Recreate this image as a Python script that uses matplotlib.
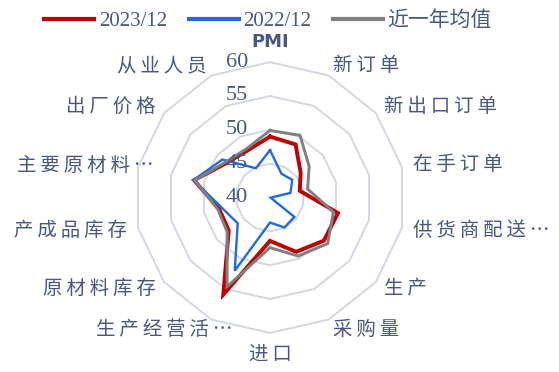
import numpy as np
import matplotlib
matplotlib.use("Agg")
import matplotlib.pyplot as plt
from matplotlib.transforms import offset_copy

# 制造业PMI分项雷达图
categories = ["PMI", "新订单", "新出口订单", "在手订单", "供货商配送…", "生产", "采购量",
              "进口", "生产经营活…", "原材料库存", "产成品库存", "主要原材料…", "出厂价格", "从业人员"]
dec_2023 = [49.0, 48.7, 45.8, 44.5, 50.3, 50.2, 48.9, 46.4, 55.9, 47.8, 47.7, 51.5, 48.2, 47.7]
dec_2022 = [47.0, 43.9, 44.2, 43.1, 40.1, 44.6, 44.9, 43.7, 52.0, 46.1, 47.2, 51.6, 49.0, 44.8]
avg_1y = [49.9, 50.2, 47.4, 45.7, 49.6, 50.9, 49.6, 47.4, 54.6, 48.1, 47.9, 51.4, 48.4, 48.0]
series_names = ["2023/12", "2022/12", "近一年均值"]
r_ticks = [40, 45, 50, 55, 60]

TEXT = "#4A5785"
GRID = "#D3D7E5"
colors = ["#C00000", "#1F6BE0", "#808080"]
widths = [2.8, 1.7, 2.1]

cjk = ["Noto Sans CJK SC", "DejaVu Sans"]
serif_cjk = ["Liberation Serif", "Noto Sans CJK SC"]

fig = plt.figure(figsize=(5.59, 3.72), dpi=100)
ax = fig.add_axes([0.2406, 0.105, 0.4848, 0.728], projection="polar")
ax.set_theta_zero_location("N")
ax.set_theta_direction(-1)
ax.set_ylim(r_ticks[0], r_ticks[-1])
ax.grid(False)
ax.set_xticks([])
ax.set_yticks([])
ax.spines["polar"].set_visible(False)
ax.patch.set_alpha(0)

n = len(categories)
theta = np.linspace(0, 2 * np.pi, n, endpoint=False)
theta_c = np.append(theta, theta[0])

# polygon grid rings
for v in r_ticks[1:]:
    ax.plot(theta_c, [v] * (n + 1), color=GRID, lw=1.4, clip_on=False, zorder=1)

for vals, name, c, w in zip([dec_2023, dec_2022, avg_1y], series_names, colors, widths):
    ax.plot(theta_c, vals + vals[:1], color=c, lw=w, label=name, zorder=3,
            solid_joinstyle="miter", clip_on=False)

# radial tick labels
tick_tr = offset_copy(ax.transData, fig=fig, x=-22, y=0, units="dots")
for v in r_ticks:
    ax.text(0, v, str(v), transform=tick_tr, ha="right", va="center",
            fontsize=16, color=TEXT, family="Liberation Serif", zorder=4)

# category labels (thin spaces to mimic the wide Song-style spacing)
label_r = 61.6
for t, lab in zip(theta, categories):
    s = np.sin(t)
    if abs(s) < 1e-6:
        ha = "center"
        va = "bottom" if np.cos(t) > 0 else "top"
    else:
        ha = "left" if s > 0 else "right"
        va = "center"
    tr = ax.transData
    if lab.endswith("…") and s < 0:
        tr = offset_copy(ax.transData, fig=fig, x=26, y=0, units="dots")
    if lab == "PMI":
        ax.text(t, label_r, lab, transform=tr, ha=ha, va=va, fontsize=13,
                color=TEXT, family="DejaVu Sans", fontweight="bold")
    else:
        ax.text(t, label_r, "\u2009".join(lab), transform=tr, ha=ha, va=va,
                fontsize=14, color=TEXT, family=cjk)

leg = fig.legend(loc="upper left", bbox_to_anchor=(0.046, 1.02), ncol=3, frameon=False,
                 handlelength=2.4, handletextpad=0.2, columnspacing=1.05,
                 prop={"family": serif_cjk, "size": 15})
for line in leg.get_lines():
    line.set_linewidth(3)
for txt in leg.get_texts():
    txt.set_color(TEXT)

fig.savefig("out.png", dpi=100)
